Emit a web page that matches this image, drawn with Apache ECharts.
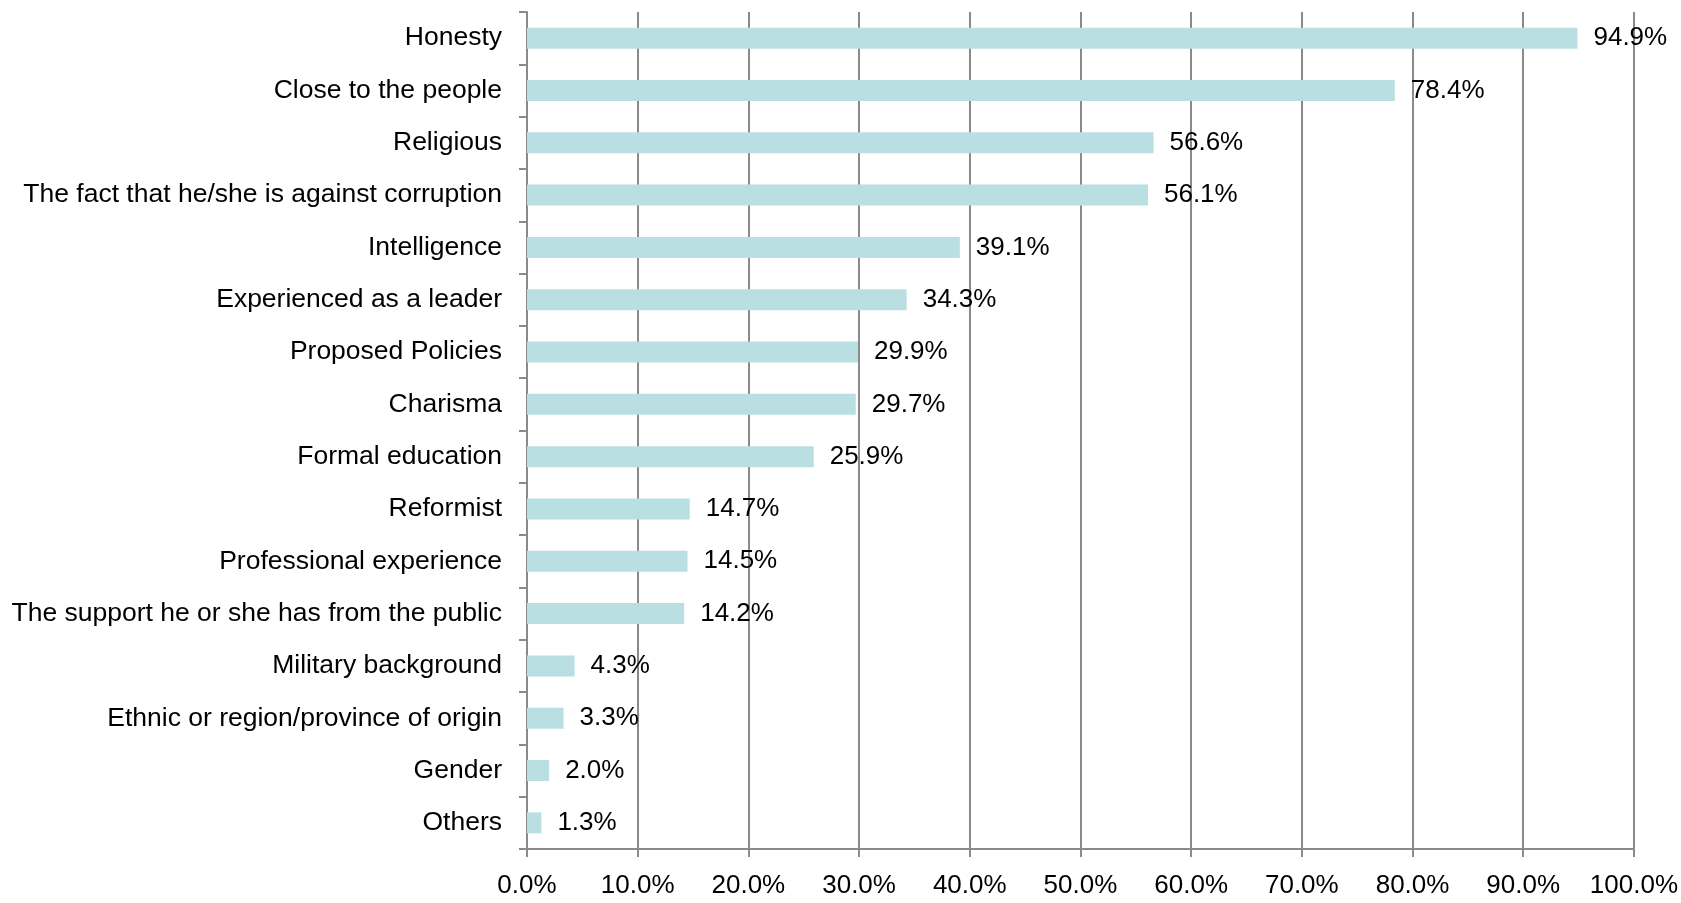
<!DOCTYPE html>
<html>
<head>
<meta charset="utf-8">
<style>
  html, body { margin: 0; padding: 0; background: #fff; }
  #chart { width: 1681px; height: 903px; }
</style>
<script src="https://cdn.jsdelivr.net/npm/echarts@6/dist/echarts.min.js"></script>
</head>
<body>
<div id="chart"></div>
<script>
// 类别（从上到下）
const categories = [
  "Honesty",
  "Close to the people",
  "Religious",
  "The fact that he/she is against corruption",
  "Intelligence",
  "Experienced as a leader",
  "Proposed Policies",
  "Charisma",
  "Formal education",
  "Reformist",
  "Professional experience",
  "The support he or she has from the public",
  "Military background",
  "Ethnic or region/province of origin",
  "Gender",
  "Others",
];
// 百分比数值
const values = [94.9, 78.4, 56.6, 56.1, 39.1, 34.3, 29.9, 29.7, 25.9, 14.7, 14.5, 14.2, 4.3, 3.3, 2.0, 1.3];

const font = "'Liberation Sans', Arial, sans-serif";
const lineColor = "#8a8a8a";

const myChart = echarts.init(document.getElementById("chart"));
myChart.setOption({
  animation: false,
  grid: { left: 527, right: 47, top: 12, bottom: 54 },
  xAxis: {
    type: "value",
    min: 0,
    max: 100,
    interval: 10,
    axisLine: { show: true, lineStyle: { color: lineColor, width: 2 } },
    axisTick: { show: true, length: 8, lineStyle: { color: lineColor, width: 2 } },
    splitLine: { show: true, lineStyle: { color: lineColor, width: 2 } },
    axisLabel: {
      margin: 24,
      color: "#000",
      fontFamily: font,
      fontSize: 26,
      formatter: (v) => v.toFixed(1) + "%",
    },
  },
  yAxis: {
    type: "category",
    inverse: true,
    data: categories,
    axisLine: { show: true, lineStyle: { color: lineColor, width: 2 } },
    axisTick: { show: true, length: 8, lineStyle: { color: lineColor, width: 2 } },
    axisLabel: {
      margin: 25,
      color: "#000",
      fontFamily: font,
      fontSize: 26.5,
    },
  },
  series: [
    {
      type: "bar",
      data: values,
      barWidth: 21,
      itemStyle: { color: "#b9dfe2" },
      label: {
        show: true,
        position: "right",
        distance: 16,
        color: "#000",
        fontFamily: font,
        fontSize: 26,
        formatter: (p) => p.value.toFixed(1) + "%",
      },
    },
  ],
});
</script>
</body>
</html>
